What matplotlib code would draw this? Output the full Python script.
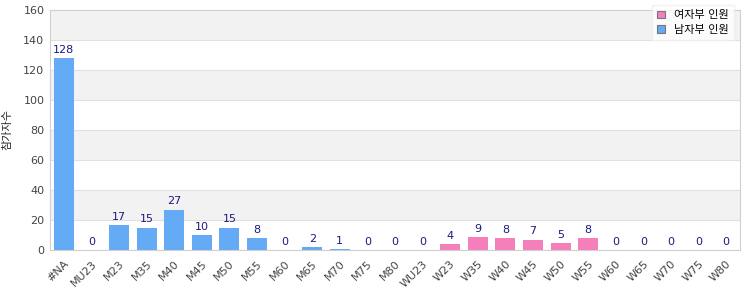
import matplotlib
matplotlib.use("Agg")
import matplotlib.pyplot as plt
import numpy as np

plt.rcParams['font.family'] = ['DejaVu Sans', 'Noto Sans CJK KR']

categories = ['#NA', 'MU23', 'M23', 'M35', 'M40', 'M45', 'M50', 'M55', 'M60', 'M65',
              'M70', 'M75', 'M80', 'WU23', 'W23', 'W35', 'W40', 'W45', 'W50', 'W55',
              'W60', 'W65', 'W70', 'W75', 'W80']
men = [128, 0, 17, 15, 27, 10, 15, 8, 0, 2, 1, 0, 0]
women = [0, 4, 9, 8, 7, 5, 8, 0, 0, 0, 0, 0]
men_label = '남자부 인원'
women_label = '여자부 인원'
y_label = '참가자수'

x = np.arange(len(categories))
x_men = x[:len(men)]
x_women = x[len(men):]

fig = plt.figure(figsize=(7.5, 3), dpi=100)
ax = fig.add_axes([50 / 750, 50 / 300, 690 / 750, 240 / 300])

# alternating horizontal bands
for lo in range(0, 160, 20):
    if (lo // 20) % 2 == 1:
        ax.axhspan(lo, lo + 20, color='#f2f2f2', zorder=0, lw=0)
    ax.axhline(lo, color='#e0e0e0', lw=0.8, zorder=0.5)

bw = 0.72
b1 = ax.bar(x_men, men, width=bw, color='#64aaf5', zorder=2, label=men_label)
b2 = ax.bar(x_women, women, width=bw, color='#f47fba', zorder=2, label=women_label)

for xi, v in zip(list(x_men) + list(x_women), men + women):
    ax.text(xi, v + 2, str(v), ha='center', va='bottom', fontsize=8, color='#1a1a80', zorder=3)

ax.set_xlim(-0.5, len(categories) - 0.5)
ax.set_ylim(0, 160)
ax.set_yticks(range(0, 161, 20))
ax.set_xticks(x)
ax.set_xticklabels(categories, rotation=45, ha='right', rotation_mode='anchor')
ax.tick_params(axis='both', length=0, labelsize=8, colors='#444444', pad=4)
ax.tick_params(axis='x', pad=6)
ax.set_ylabel(y_label, fontsize=8, color='#222222')
ax.yaxis.set_label_coords(-0.055, 0.5)
for s in ax.spines.values():
    s.set_color('#d0d0d0')
    s.set_linewidth(0.8)

handles = [b2, b1]
leg = ax.legend(handles, [women_label, men_label], loc='upper right', bbox_to_anchor=(1.0, 1.045),
                fontsize=8, frameon=True, fancybox=False, edgecolor='#eeeeee',
                handlelength=0.7, handleheight=0.7, borderpad=0.5, labelspacing=0.4)
leg.get_frame().set_facecolor('white')
for h in leg.legend_handles:
    h.set_edgecolor('#777777')
    h.set_linewidth(0.8)
leg.set_zorder(5)

fig.savefig('out.png', dpi=100)
